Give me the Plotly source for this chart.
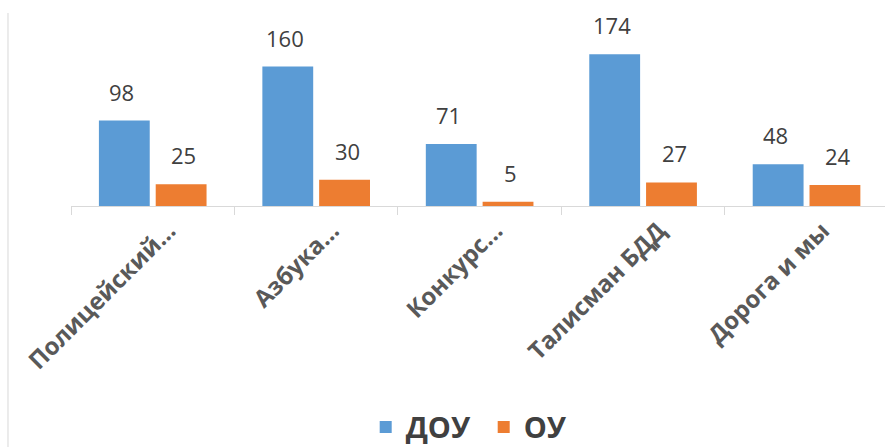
import plotly.graph_objects as go

categories = ["Полицейский...", "Азбука...", "Конкурс...", "Талисман БДД", "Дорога и мы"]
dou_values = [98, 160, 71, 174, 48]
ou_values = [25, 30, 5, 27, 24]
series_names = ["ДОУ", "ОУ"]

BLUE = "#5B9BD5"
ORANGE = "#ED7D31"
FONT = "Open Sans"

fig = go.Figure()
fig.add_trace(go.Bar(x=categories, y=dou_values, name=series_names[0],
                     marker=dict(color=BLUE, line=dict(width=0))))
fig.add_trace(go.Bar(x=categories, y=ou_values, name=series_names[1],
                     marker=dict(color=ORANGE, line=dict(width=0))))

annotations = []
for vals, shift in ((dou_values, -31), (ou_values, 31)):
    for c, v in zip(categories, vals):
        annotations.append(dict(x=c, y=v, xref="x", yref="y", text=str(v),
                                showarrow=False, yanchor="bottom", xshift=shift,
                                yshift=12,
                                font=dict(family=FONT, size=22, color="#404040")))

fig.update_layout(
    width=885, height=447,
    margin=dict(l=71, r=0, t=0, b=241, autoexpand=False),
    paper_bgcolor="white", plot_bgcolor="white",
    barmode="group", bargap=0.305, bargroupgap=0.105,
    showlegend=True,
    legend=dict(orientation="h", x=0.507, xanchor="center", y=-1.073, yanchor="middle",
                font=dict(family=FONT, size=29, color="#404040", weight="bold"),
                itemsizing="constant", entrywidth=73, entrywidthmode="pixels"),
    annotations=annotations,
    font=dict(family=FONT),
    xaxis=dict(range=[-0.5, 4.48], showline=True, linecolor="#D9D9D9", linewidth=1,
               ticks="outside", tickson="boundaries", ticklen=8, tickcolor="#D9D9D9",
               tickangle=-45, showgrid=False, zeroline=False, automargin=False,
               ticklabelshift=16,
               tickfont=dict(family=FONT, size=24, color="#595959", weight="bold")),
    yaxis=dict(range=[0, 236.3], visible=False, showgrid=False, zeroline=False,
               automargin=False),
    shapes=[dict(type="line", xref="paper", yref="paper", x0=-0.0774, x1=-0.0774,
                 y0=0.937, y1=-1.2, line=dict(color="#D9D9D9", width=1))],
)

fig.write_html("out.html", config={"displayModeBar": False},
               post_script="document.body.style.margin='0';document.body.style.overflow='hidden';")
